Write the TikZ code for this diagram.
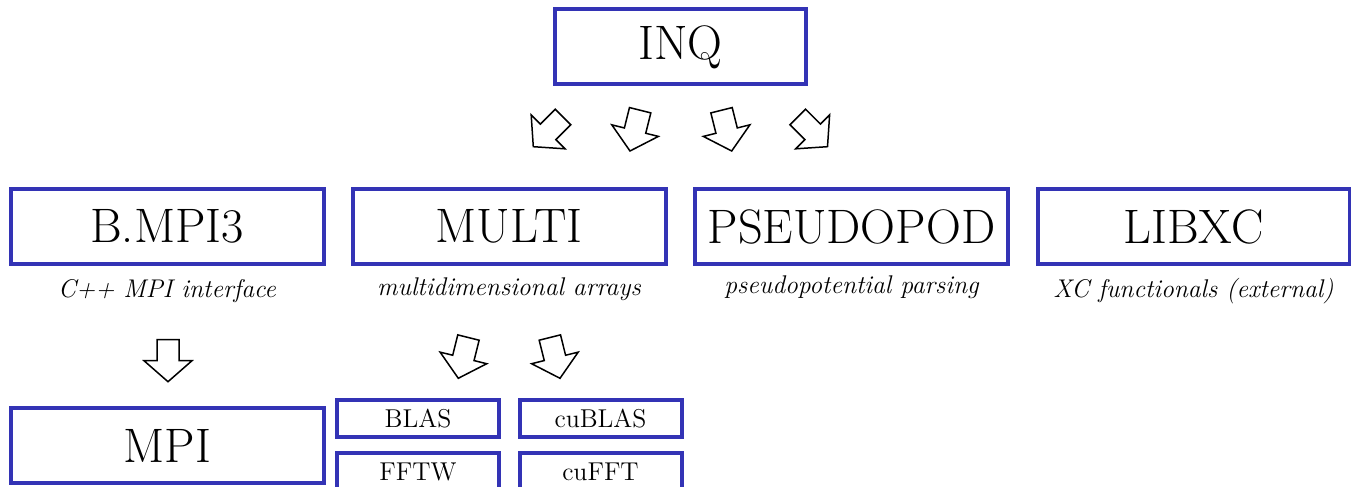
\documentclass[tikz,border=0pt]{standalone}
\usepackage{fontspec}
\definecolor{boxblue}{RGB}{51,51,181}
\begin{document}
\begin{tikzpicture}[x=0.5pt,y=0.5pt,
  bigbox/.style={draw=boxblue, line width=2pt, inner sep=0pt, minimum width=156.5pt, minimum height=37.5pt, font=\fontsize{24.2}{28}\selectfont},
  smallbox/.style={draw=boxblue, line width=2pt, inner sep=0pt, minimum width=81pt, minimum height=18.5pt, font=\fontsize{12.9}{15}\selectfont},
  subtitle/.style={anchor=base, inner sep=0pt, font=\fontsize{12.8}{15}\selectfont\itshape},
  blockarr/.pic={\draw[line width=0.75pt, line join=miter] (0,0) -- (-21,24) -- (-21,11) -- (-42,11) -- (-42,-11) -- (-21,-11) -- (-21,-24) -- cycle;}]
\useasboundingbox (0,0) rectangle (1351,487);
\node[bigbox, minimum width=125.5pt] (inq) at (680.5,440) {INQ};
\node[bigbox] (bmpi) at (167,260.5) {B.MPI3};
\node[bigbox] (multi) at (509,260.5) {MULTI};
\node[bigbox] (pseudo) at (851.5,260.5) {PSEUDOPOD};
\node[bigbox, minimum width=156pt] (libxc) at (1193.5,260.5) {LIBXC};
\node[subtitle] (bmpisub) at (167,189) {C++ MPI interface};
\node[subtitle] (multisub) at (509,191) {multidimensional arrays};
\node[subtitle] (pseudosub) at (851.5,193) {pseudopotential parsing};
\node[subtitle] (libxcsub) at (1193.5,189) {XC functionals (external)};
\node[bigbox] (mpi) at (167.5,41.5) {MPI};
\node[smallbox] (blas) at (418,68.5) {BLAS};
\node[smallbox] (cublas) at (600.5,68.5) {cuBLAS};
\node[smallbox] (fftw) at (418,15.5) {FFTW};
\node[smallbox] (cufft) at (600.5,15.5) {cuFFT};
\pic[rotate=225] at (533.3,340.3) {blockarr};
\pic[rotate=256] at (630,336) {blockarr};
\pic[rotate=284] at (731.7,336) {blockarr};
\pic[rotate=315] at (827.5,340.3) {blockarr};
\pic[rotate=270] at (168,105.3) {blockarr};
\pic[rotate=256] at (458.3,108.7) {blockarr};
\pic[rotate=284] at (560,108.7) {blockarr};
\end{tikzpicture}
\end{document}
